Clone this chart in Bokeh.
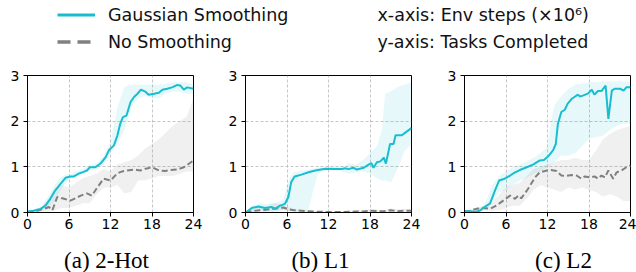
from bokeh.plotting import figure
from bokeh.layouts import column, row
from bokeh.models import (ColumnDataSource, Range1d, FixedTicker, Legend, LegendItem, Label)
from bokeh.embed import file_html
from bokeh.resources import INLINE

# ---------------- data ----------------
x_ticks = [0, 6, 12, 18, 24]
y_ticks = [0, 1, 2, 3]
captions = ["(a) 2-Hot", "(b) L1", "(c) L2"]
series_names = ["Gaussian Smoothing", "No Smoothing"]
axis_notes = ["x-axis: Env steps (\u00d710\u2076)", "y-axis: Tasks Completed"]

# Panel (a) 2-Hot
gauss_x_a = [0, 0.9, 1.9, 2.6, 3.3, 4.0, 4.8, 5.5, 6.2, 6.7, 7.4, 8.1, 8.6, 9.0, 9.8, 10.6, 11.3, 11.8, 12.5, 13.0,
             13.4, 13.8, 14.3, 14.9, 15.4, 15.9, 16.4, 17.1, 17.5, 18.3, 19.0, 19.5, 20.2, 20.9, 21.6, 22.1, 22.6, 23.1, 24]
gauss_y_a = [0.02, 0.04, 0.08, 0.15, 0.3, 0.48, 0.63, 0.76, 0.79, 0.79, 0.85, 0.89, 0.92, 0.99, 0.99, 1.08, 1.21, 1.37,
             1.47, 1.69, 1.94, 2.09, 2.12, 2.42, 2.53, 2.6, 2.69, 2.64, 2.58, 2.6, 2.62, 2.69, 2.71, 2.74, 2.79, 2.78,
             2.69, 2.74, 2.71]
nosm_x_a = [0, 1.4, 2.4, 3.1, 3.6, 4.3, 5.3, 6.2, 6.9, 7.7, 8.6, 9.3, 10.1, 11.0, 12.0, 13.0, 13.7, 14.4, 15.4, 16.3,
            17.1, 18.0, 19.0, 19.9, 20.7, 21.6, 22.6, 24]
nosm_y_a = [0.0, 0.04, 0.08, 0.12, 0.05, 0.34, 0.3, 0.26, 0.31, 0.37, 0.42, 0.37, 0.55, 0.74, 0.7, 0.86, 0.9, 0.92,
            0.94, 0.92, 0.96, 0.99, 0.92, 0.91, 0.93, 0.94, 0.99, 1.14]
band_x_a = [0, 2, 3, 4, 5, 6, 7, 8, 9, 10, 11, 12, 13, 14, 15, 16, 17, 18, 19, 20, 21, 22, 23, 24]
gauss_lo_a = [0, 0.05, 0.1, 0.25, 0.55, 0.72, 0.78, 0.85, 0.92, 0.95, 1.05, 1.3, 1.5, 1.8, 2.3, 2.5, 2.55, 2.5, 2.5,
              2.6, 2.65, 2.65, 2.6, 2.6]
gauss_hi_a = [0.03, 0.12, 0.35, 0.62, 0.8, 0.85, 0.9, 0.95, 1.05, 1.08, 1.25, 1.55, 2.3, 2.75, 2.8, 2.8, 2.8, 2.8, 2.8,
              2.82, 2.85, 2.85, 2.85, 2.8]
nosm_lo_a = [0, 0.02, 0.02, 0.05, 0.1, 0.1, 0.15, 0.2, 0.2, 0.4, 0.55, 0.55, 0.6, 0.42, 0.45, 0.7, 0.7, 0.75, 0.8, 0.8,
             0.8, 0.85, 0.9, 0.9]
nosm_hi_a = [0.02, 0.12, 0.3, 0.55, 0.6, 0.55, 0.65, 0.75, 0.8, 0.85, 0.95, 0.9, 1.05, 1.1, 1.15, 1.25, 1.4, 1.5, 1.6,
             1.75, 1.9, 2.0, 2.1, 2.5]

# Panel (b) L1
gauss_x_b = [0, 0.9, 1.9, 2.8, 3.8, 4.3, 5.0, 5.7, 6.2, 6.6, 7.1, 8.1, 9.1, 10.1, 11.5, 13.0, 13.9, 14.4, 14.9, 15.6,
             16.1, 17.1, 17.8, 18.2, 18.5, 19.0, 19.5, 20.0, 20.3, 20.9, 21.4, 21.7, 22.6, 23.2, 24]
gauss_y_b = [0, 0.1, 0.13, 0.1, 0.12, 0.08, 0.15, 0.19, 0.34, 0.66, 0.79, 0.83, 0.88, 0.92, 0.96, 0.95, 0.95, 0.97,
             0.95, 0.98, 0.94, 0.98, 1.05, 1.08, 0.98, 1.1, 1.12, 1.2, 1.07, 1.5, 1.5, 1.69, 1.69, 1.76, 1.85]
band_x_b = [0, 1, 2, 3, 4, 5, 5.5, 6, 6.5, 7, 8, 9, 9.5, 10, 10.5, 11, 12, 13, 14, 15, 16, 17, 18, 19, 19.7, 20.2,
            21, 22, 23, 24]
gauss_lo_b = [0, 0.02, 0.05, 0.05, 0.03, 0.05, 0.05, 0.05, 0.05, 0.03, 0.03, 0.03, 0.3, 0.6, 0.85, 0.9, 0.93, 0.92,
              0.9, 0.85, 0.88, 0.9, 0.85, 0.75, 0.7, 0.7, 0.65, 0.95, 1.35, 1.5]
gauss_hi_b = [0, 0.15, 0.2, 0.18, 0.2, 0.25, 0.3, 0.6, 0.8, 0.88, 0.92, 0.93, 0.95, 0.97, 0.98, 0.98, 0.99, 1.0, 1.0,
              1.08, 1.05, 1.15, 1.3, 1.45, 1.8, 2.6, 2.65, 2.75, 2.8, 2.85]
nosm_x_b = [0, 1, 2, 3, 4, 5, 5.5, 6, 7, 8, 9, 10, 12, 14, 16, 17, 18, 19, 20, 21, 22, 23, 24]
nosm_y_b = [0, 0.03, 0.05, 0.06, 0.08, 0.1, 0.11, 0.08, 0.05, 0.04, 0.03, 0.02, 0.01, 0.01, 0.02, 0.02, 0.04, 0.03,
            0.03, 0.05, 0.03, 0.04, 0.04]
nosm_lo_b = [0, 0, 0, 0.01, 0.01, 0.03, 0.05, 0.04, 0.02, 0.01, 0, 0, 0, 0, 0, 0, 0.01, 0, 0, 0.01, 0, 0, 0]
nosm_hi_b = [0, 0.08, 0.12, 0.12, 0.2, 0.18, 0.15, 0.12, 0.08, 0.06, 0.05, 0.04, 0.03, 0.03, 0.05, 0.05, 0.07, 0.06,
             0.06, 0.09, 0.07, 0.08, 0.08]

# Panel (c) L2
gauss_x_c = [0, 0.8, 1.5, 2.2, 2.9, 3.7, 4.4, 5.0, 5.8, 6.6, 7.3, 8.0, 9.0, 9.9, 10.9, 11.5, 12.1, 12.8, 13.2, 13.5,
             14.0, 14.5, 14.9, 15.5, 15.9, 16.4, 16.7, 17.1, 17.9, 18.4, 18.8, 19.3, 19.8, 20.4, 20.8, 21.3, 21.7,
             22.5, 23.0, 23.4, 24]
gauss_y_c = [0.02, 0.03, 0.01, 0.04, 0.12, 0.2, 0.48, 0.7, 0.74, 0.81, 0.88, 0.93, 0.99, 1.05, 1.14, 1.15, 1.23, 1.36,
             1.5, 1.94, 2.2, 2.25, 2.38, 2.49, 2.53, 2.58, 2.54, 2.56, 2.61, 2.69, 2.58, 2.66, 2.66, 2.78, 2.05, 2.67,
             2.71, 2.71, 2.67, 2.74, 2.74]
band_x_c = [0, 2, 3, 4, 5, 6, 7, 8, 9, 10, 11, 12, 12.5, 13, 14, 15, 16, 17, 18, 19, 20, 21, 22, 23, 24]
gauss_lo_c = [0, 0, 0.05, 0.2, 0.45, 0.5, 0.6, 0.7, 0.75, 0.85, 0.9, 1.0, 1.05, 1.1, 1.25, 1.25, 1.3, 1.45, 1.62,
              1.65, 1.68, 1.8, 1.9, 1.95, 1.95]
gauss_hi_c = [0.03, 0.08, 0.2, 0.6, 0.8, 0.9, 1.0, 1.05, 1.12, 1.2, 1.3, 1.45, 2.0, 2.35, 2.55, 2.7, 2.8, 2.82, 2.85,
              2.85, 2.87, 2.87, 2.87, 2.87, 2.85]
nosm_x_c = [0, 0.8, 1.7, 2.7, 3.7, 4.6, 5.6, 6.6, 7.3, 7.8, 8.2, 9.2, 10.2, 10.9, 11.9, 12.5, 13.3, 14.0, 14.7, 15.5,
            16.2, 16.9, 17.4, 18.1, 18.8, 19.3, 19.8, 20.3, 20.8, 21.5, 22.0, 22.7, 23.4, 24]
nosm_y_c = [0.02, 0.04, 0.08, 0.1, 0.08, 0.15, 0.26, 0.37, 0.3, 0.37, 0.31, 0.52, 0.77, 0.88, 0.92, 0.93, 0.91, 0.81,
            0.8, 0.82, 0.81, 0.74, 0.79, 0.77, 0.79, 0.74, 0.81, 0.77, 0.92, 0.74, 0.88, 0.92, 0.99, 1.03]
nband_x_c = [0, 2, 3, 4, 5, 6, 7, 8, 9, 10, 11, 12, 13, 14, 15, 16, 17, 18, 19, 20, 21, 22, 23, 24]
nosm_lo_c = [0, 0.02, 0.05, 0.03, 0.05, 0.1, 0.15, 0.15, 0.3, 0.5, 0.6, 0.55, 0.5, 0.45, 0.55, 0.5, 0.55, 0.5, 0.45,
             0.35, 0.4, 0.35, 0.25, 0.25]
nosm_hi_c = [0.03, 0.12, 0.15, 0.2, 0.4, 0.55, 0.6, 0.65, 0.8, 0.95, 1.0, 1.05, 1.1, 1.15, 1.15, 1.2, 1.15, 1.15,
             1.35, 1.6, 1.72, 1.8, 1.85, 1.9]

# ---------------- style ----------------
CYAN = "#17becf"
GRAY = "#808080"
TICK_FONT = "DejaVu Sans"

panels = [
    dict(gx=gauss_x_a, gy=gauss_y_a, nx=nosm_x_a, ny=nosm_y_a, gbx=band_x_a, glo=gauss_lo_a, ghi=gauss_hi_a,
         nbx=band_x_a, nlo=nosm_lo_a, nhi=nosm_hi_a, bl=27, br=20),
    dict(gx=gauss_x_b, gy=gauss_y_b, nx=nosm_x_b, ny=nosm_y_b, gbx=band_x_b, glo=gauss_lo_b, ghi=gauss_hi_b,
         nbx=nosm_x_b, nlo=nosm_lo_b, nhi=nosm_hi_b, bl=32, br=20),
    dict(gx=gauss_x_c, gy=gauss_y_c, nx=nosm_x_c, ny=nosm_y_c, gbx=band_x_c, glo=gauss_lo_c, ghi=gauss_hi_c,
         nbx=nband_x_c, nlo=nosm_lo_c, nhi=nosm_hi_c, bl=33, br=6),
]

figs = []
for d in panels:
    p = figure(frame_width=166, frame_height=137, x_range=Range1d(0, 24), y_range=Range1d(0, 3),
               output_backend="svg", toolbar_location=None,
               min_border_left=d["bl"], min_border_right=d["br"], min_border_top=10, min_border_bottom=26)
    p.background_fill_color = "white"
    p.border_fill_color = "white"
    p.outline_line_color = "black"
    p.outline_line_width = 1
    p.outline_line_alpha = 1

    p.varea(x=d["nbx"], y1=d["nlo"], y2=d["nhi"], fill_color=GRAY, fill_alpha=0.12)
    p.varea(x=d["gbx"], y1=d["glo"], y2=d["ghi"], fill_color=CYAN, fill_alpha=0.11)
    p.line(d["nx"], d["ny"], line_color=GRAY, line_width=2, line_dash="6 3")
    p.line(d["gx"], d["gy"], line_color=CYAN, line_width=2)

    p.xaxis.ticker = FixedTicker(ticks=x_ticks)
    p.yaxis.ticker = FixedTicker(ticks=y_ticks)
    for ax in (p.xaxis[0], p.yaxis[0]):
        ax.axis_line_color = "black"
        ax.axis_line_width = 1
        ax.major_tick_line_color = "black"
        ax.major_tick_line_width = 1
        ax.major_tick_out = 4
        ax.major_tick_in = 0
        ax.minor_tick_line_color = None
        ax.major_label_text_font = TICK_FONT
        ax.major_label_text_font_size = "14px"
        ax.major_label_text_color = "black"
    p.xaxis.major_label_standoff = 2
    p.yaxis.major_label_standoff = 4
    for g in (p.xgrid[0], p.ygrid[0]):
        g.grid_line_color = "#b8b8b8"
        g.grid_line_dash = "3 2"
        g.grid_line_width = 1
        g.grid_line_alpha = 0.8
    figs.append(p)

# ---------------- legend strip ----------------
LEG_H = 65
leg = figure(width=636, height=LEG_H, x_range=Range1d(0, 636), y_range=Range1d(0, LEG_H),
             output_backend="svg", toolbar_location=None, min_border=0,
             x_axis_location=None, y_axis_location=None)
leg.outline_line_color = None
leg.grid.visible = False
nan = float("nan")
src_dummy = ColumnDataSource(data=dict(x=[nan], y=[nan]))
r_g = leg.line("x", "y", source=src_dummy, line_color=CYAN, line_width=3)
r_n = leg.line("x", "y", source=src_dummy, line_color=GRAY, line_width=3.5, line_dash="13 7")
legend = Legend(items=[LegendItem(label=series_names[0], renderers=[r_g]),
                       LegendItem(label=series_names[1], renderers=[r_n])],
                location=(57, LEG_H - 52), orientation="vertical",
                glyph_width=38, glyph_height=21, label_height=21, spacing=6,
                label_standoff=13, padding=0, margin=0,
                label_text_font="DejaVu Sans", label_text_font_size="17.5px", label_text_color="#111111",
                border_line_alpha=0, background_fill_alpha=0)
leg.add_layout(legend)
for i, txt in enumerate(axis_notes):
    leg.add_layout(Label(x=377, y=LEG_H - 14.5 - 27 * i, text=txt, text_font="DejaVu Sans",
                         text_font_size="17.5px", text_baseline="middle", text_align="left",
                         text_color="#111111"))

# ---------------- captions strip ----------------
CAP_H = 34
cap = figure(width=636, height=CAP_H, x_range=Range1d(0, 636), y_range=Range1d(0, CAP_H),
             output_backend="svg", toolbar_location=None, min_border=0,
             x_axis_location=None, y_axis_location=None)
cap.outline_line_color = None
cap.grid.visible = False
for cx, txt in zip([106, 320, 563], captions):
    cap.add_layout(Label(x=cx, y=CAP_H - 22, text=txt, text_font="Liberation Serif", text_font_size="23px",
                         text_baseline="middle", text_align="center", text_color="black"))

layout = column(leg, row(*figs), cap)
open("out.html", "w").write(file_html(layout, INLINE))
